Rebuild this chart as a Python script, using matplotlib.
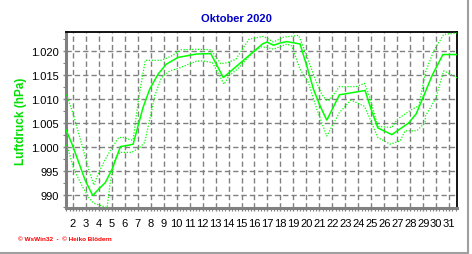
import numpy as np
import matplotlib
matplotlib.use("Agg")
import matplotlib.pyplot as plt
from matplotlib.lines import Line2D
from matplotlib.ticker import MultipleLocator, FixedLocator

plt.rcParams["font.family"] = ["Liberation Sans", "DejaVu Sans"]

# -------------------- Data (day of month, hPa) --------------------
mean_day = [1.48, 1.95, 2.46, 2.97, 3.54, 4.00, 4.51, 5.03, 5.67, 6.31, 6.65,
            7.03, 7.42, 7.93, 8.57, 9.21, 10.11, 11.52, 12.63, 13.60, 16.61,
            16.95, 17.46, 17.97, 18.49, 19.51, 20.03, 20.54, 21.05, 21.57,
            22.54, 24.52, 24.98, 25.50, 26.58, 27.86, 28.45, 29.04, 29.68,
            30.51, 31.62]
mean_hpa = [1003.6, 1000.6, 996.8, 993.0, 989.9, 991.25, 992.6, 995.4, 1000.1,
            1000.4, 1000.6, 1004.4, 1008.3, 1012.1, 1015.2, 1017.3, 1018.7,
            1019.4, 1019.5, 1014.5, 1021.5, 1021.9, 1021.25, 1021.7, 1022.0,
            1021.5, 1016.9, 1012.1, 1008.6, 1005.6, 1010.9, 1011.8, 1007.9,
            1004.0, 1002.6, 1005.0, 1006.9, 1010.7, 1014.9, 1019.3, 1019.3]

max_day = [1.48, 1.56, 2.08, 2.72, 3.23, 3.62, 4.00, 4.51, 5.03, 5.54, 5.93,
           6.44, 6.65, 7.03, 7.29, 7.59, 8.83, 9.60, 10.37, 11.52, 12.63,
           13.40, 13.91, 14.56, 15.58, 16.70, 17.46, 18.20, 19.40, 19.60,
           20.03, 20.67, 21.18, 21.57, 21.77, 22.54, 23.83, 24.47, 24.85,
           25.50, 26.58, 27.00, 28.14, 28.66, 29.17, 29.81, 30.58, 31.62]
max_hpa = [1010.9, 1010.7, 1006.5, 1000.3, 995.4, 992.1, 994.7, 997.5, 999.9,
           1002.0, 1002.0, 1001.5, 1001.5, 1009.3, 1013.5, 1018.1, 1018.1,
           1019.0, 1020.3, 1020.4, 1020.3, 1017.4, 1017.6, 1018.3, 1022.5,
           1023.1, 1021.9, 1022.9, 1023.3, 1022.0, 1019.0, 1014.2, 1011.0,
           1009.7, 1009.8, 1012.6, 1012.6, 1013.3, 1010.7, 1004.3, 1004.1,
           1005.8, 1007.9, 1008.6, 1015.6, 1020.1, 1023.5, 1023.8]

min_day = [1.48, 1.56, 2.08, 2.72, 3.23, 3.62, 4.51, 4.65, 4.87, 5.26, 5.64,
           6.55, 7.19, 7.55, 7.93, 8.32, 8.83, 9.47, 10.11, 11.52, 11.99,
           12.76, 13.66, 14.04, 14.68, 15.84, 16.50, 16.95, 17.46, 18.49,
           18.87, 19.51, 20.15, 20.80, 21.57, 22.54, 23.44, 24.47, 24.85,
           25.50, 26.45, 27.22, 27.60, 28.50, 29.14, 29.17, 29.94, 30.58,
           31.09, 31.62]
min_hpa = [1000.5, 1000.3, 995.4, 991.9, 989.5, 988.3, 987.5, 987.4, 992.3,
           997.5, 998.9, 998.9, 1000.0, 1001.0, 1005.8, 1010.7, 1014.5, 1015.9,
           1016.4, 1017.9, 1018.0, 1017.6, 1013.1, 1014.9, 1016.25, 1019.7,
           1020.9, 1020.8, 1020.4, 1021.5, 1021.1, 1016.25, 1013.5, 1007.9,
           1002.3, 1007.2, 1009.8, 1008.5, 1006.2, 1002.0, 1000.6, 1001.3,
           1003.4, 1003.4, 1005.1, 1006.5, 1010.0, 1015.9, 1015.2, 1014.4]

day_ticks = list(range(2, 32))
hpa_ticks = [990, 995, 1000, 1005, 1010, 1015, 1020]
hpa_labels = ["990", "995", "1.000", "1.005", "1.010", "1.015", "1.020"]

# -------------------- Plot --------------------
W, H = 472, 255
fig = plt.figure(figsize=(W / 100, H / 100), dpi=100)
ax = fig.add_axes([66 / W, 1 - 209 / H, (457 - 66) / W, (209 - 33) / H])

green = "#00ff00"
ax.plot(mean_day, mean_hpa, color=green, lw=1.1, solid_joinstyle="miter", zorder=3)
ax.plot(max_day, max_hpa, color=green, lw=0.9, linestyle=(0, (1, 1.3)), zorder=3)
ax.plot(min_day, min_hpa, color=green, lw=0.9, linestyle=(0, (1, 1.3)), zorder=3)

ax.set_xlim(1.48, 31.6)
ax.set_ylim(987.3, 1024.0)

ax.xaxis.set_major_locator(FixedLocator(day_ticks))
ax.set_xticklabels([str(d) for d in day_ticks])
ax.xaxis.set_minor_locator(MultipleLocator(0.25))
ax.yaxis.set_major_locator(FixedLocator(hpa_ticks))
ax.set_yticklabels(hpa_labels)
ax.yaxis.set_minor_locator(MultipleLocator(2.5))

ax.grid(True, which="major", color="#808080", lw=1.0, linestyle=(0, (3.8, 2.2)))
ax.set_axisbelow(True)

ax.tick_params(axis="both", which="major", labelsize=8, colors="#808080",
               labelcolor="black", length=2, width=1)
ax.tick_params(axis="x", which="major", pad=5)
ax.tick_params(axis="y", which="major", pad=3)
ax.tick_params(axis="both", which="minor", colors="#808080", length=2, width=0.8)

for side in ["left", "bottom"]:
    ax.spines[side].set_color("#808080")
    ax.spines[side].set_linewidth(2.2)
for side in ["top", "right"]:
    ax.spines[side].set_color("black")
    ax.spines[side].set_linewidth(1.3)

ax.set_ylabel("Luftdruck (hPa)", color="#00e000", fontsize=8.5, fontweight="bold")
ax.yaxis.set_label_coords(-0.100, 0.5)

fig.text(0.5, 1 - 19 / H, "Oktober 2020", ha="center", va="center",
         color="#0000cc", fontsize=8, fontweight="bold")
fig.text(18 / W, 1 - 240 / H, "© WsWin32  -  © Heiko Blödern", ha="left",
         va="center", color="red", fontsize=4.6, fontweight="bold")

# gray frame at right and bottom of the picture
fig.add_artist(Line2D([467.5 / W, 467.5 / W], [1 - 253.5 / H, 1], color="#a0a0a0",
                      lw=1.5, transform=fig.transFigure))
fig.add_artist(Line2D([0, 467.5 / W], [1 - 253.5 / H, 1 - 253.5 / H], color="#a0a0a0",
                      lw=1.5, transform=fig.transFigure))

fig.savefig("out.png", dpi=100)
